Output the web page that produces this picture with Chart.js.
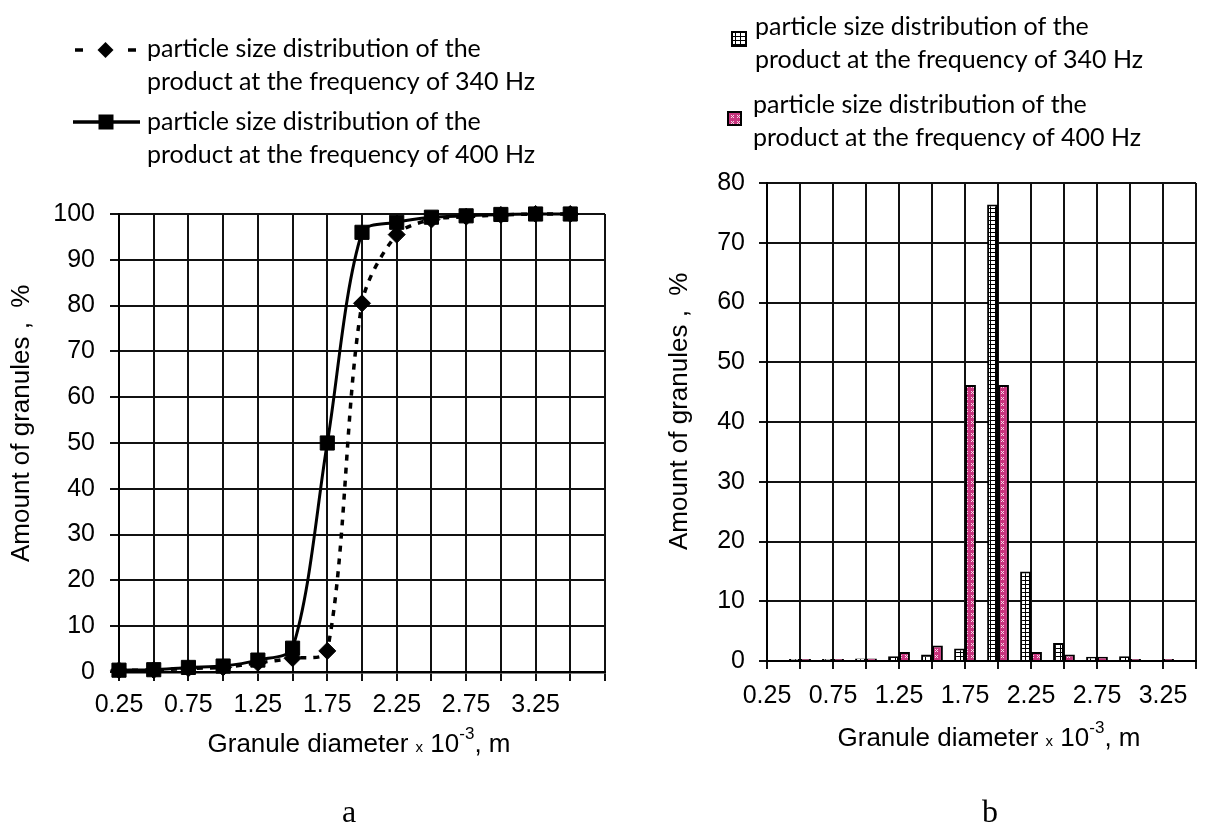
<!DOCTYPE html>
<html>
<head>
<meta charset="utf-8">
<script src="https://cdn.jsdelivr.net/npm/chart.js@4.4.1/dist/chart.umd.min.js"></script>
<style>
  body { margin: 0; background: #fff; }
  #wrap { position: relative; width: 1208px; height: 825px; background: #fff; }
  canvas { position: absolute; top: 0; }
  #left { left: 0; }
  #right { left: 640px; }
</style>
</head>
<body>
<div id="wrap">
  <canvas id="left" width="640" height="825"></canvas>
  <canvas id="right" width="568" height="825"></canvas>
</div>
<script>
// granule diameter, x10^-3 m
const diameters = [0.25, 0.5, 0.75, 1.0, 1.25, 1.5, 1.75, 2.0, 2.25, 2.5, 2.75, 3.0, 3.25, 3.5];
// cumulative amount of granules, % (figure a)
const cum340 = [0.4, 0.4, 0.8, 1.0, 2.0, 3.0, 4.6, 80.5, 95.5, 98.8, 99.4, 99.8, 100, 100];
const cum400 = [0.4, 0.5, 1.0, 1.3, 2.6, 5.2, 50, 96, 98.2, 99.3, 99.6, 99.9, 100, 100];
// amount of granules per fraction, % (figure b); no bar drawn where null
const binDiameters = [0.5, 0.75, 1.0, 1.25, 1.5, 1.75, 2.0, 2.25, 2.5, 2.75, 3.0, 3.25];
const frac340 = [0.2, 0.2, 0.4, 0.8, 1.1, 2.1, 76.4, 15, 3, 0.7, 0.8, null];
const frac400 = [0.2, 0.2, 0.4, 1.5, 2.6, 46.2, 46.2, 1.5, 1.1, 0.7, 0.3, 0.2];
// labelled ticks on the diameter axis
const xTickLabels = ['0.25', '0.75', '1.25', '1.75', '2.25', '2.75', '3.25'];
const legend340 = ['particle size distribution of the', 'product at the frequency of 340 Hz'];
const legend400 = ['particle size distribution of the', 'product at the frequency of 400 Hz'];
const yTitle = 'Amount of granules ,  %';

Chart.defaults.font.family = "'Liberation Sans', Arial, sans-serif";
Chart.defaults.font.size = 25;
Chart.defaults.color = '#000';

const GRID = '#111';
const legendFont = "25px Lato, 'Open Sans', sans-serif";

function makePattern(kind) {
  const c = document.createElement('canvas');
  if (kind === 'grid') {
    c.width = 5; c.height = 4;
    const g = c.getContext('2d');
    g.fillStyle = '#fff'; g.fillRect(0, 0, 5, 4);
    g.fillStyle = '#000'; g.fillRect(0, 0, 5, 1); g.fillRect(0, 0, 1, 4);
    return g.createPattern(c, 'repeat');
  }
  c.width = 6; c.height = 6;
  const g = c.getContext('2d');
  g.fillStyle = '#c8347e'; g.fillRect(0, 0, 6, 6);
  g.fillStyle = '#f6d8e8';
  [[1, 1], [3, 1], [2, 2], [1, 3], [3, 3]].forEach(p => g.fillRect(p[0], p[1], 1, 1));
  return g.createPattern(c, 'repeat');
}
const gridPattern = makePattern('grid');
const pinkPattern = makePattern('pink');

function xTick(v) {
  const s = Number(v).toFixed(2);
  return xTickLabels.includes(s) ? s : '';
}

// --- text helpers for the plugins ---
function drawYTitle(ctx, x, y) {
  ctx.save();
  ctx.translate(x, y);
  ctx.rotate(-Math.PI / 2);
  ctx.font = "26px 'Liberation Sans', Arial, sans-serif";
  ctx.textAlign = 'left';
  ctx.textBaseline = 'middle';
  ctx.fillText(yTitle, 0, 0);
  ctx.restore();
}

function drawXTitle(ctx, cx, base) {
  const parts = [
    ['Granule diameter ', 26, 0],
    ['x', 15, 0],
    [' 10', 26, 0],
    ['-3', 17, -13],
    [', m', 26, 0]
  ];
  ctx.save();
  ctx.textAlign = 'left';
  ctx.textBaseline = 'alphabetic';
  let total = 0;
  parts.forEach(p => {
    ctx.font = p[1] + "px 'Liberation Sans', Arial, sans-serif";
    total += ctx.measureText(p[0]).width;
  });
  let x = cx - total / 2;
  parts.forEach(p => {
    ctx.font = p[1] + "px 'Liberation Sans', Arial, sans-serif";
    ctx.fillText(p[0], x, base + p[2]);
    x += ctx.measureText(p[0]).width;
  });
  ctx.restore();
}

function drawCaption(ctx, text, cx, base) {
  ctx.save();
  ctx.font = "32px 'Liberation Serif', 'Times New Roman', serif";
  ctx.textAlign = 'center';
  ctx.textBaseline = 'alphabetic';
  ctx.fillText(text, cx, base);
  ctx.restore();
}

function drawLegendText(ctx, lines, x, base) {
  ctx.save();
  ctx.font = legendFont;
  ctx.textAlign = 'left';
  ctx.textBaseline = 'alphabetic';
  lines.forEach((t, i) => ctx.fillText(t, x, base + i * 33));
  ctx.restore();
}

const leftDecor = {
  id: 'leftDecor',
  afterDraw(chart) {
    const ctx = chart.ctx;
    ctx.save();
    ctx.fillStyle = '#000';
    ctx.strokeStyle = '#000';
    // 340 Hz symbol: dash - diamond - dash
    ctx.lineWidth = 3.5;
    ctx.beginPath();
    ctx.moveTo(75, 50); ctx.lineTo(83, 50);
    ctx.moveTo(128, 50); ctx.lineTo(136, 50);
    ctx.stroke();
    ctx.beginPath();
    ctx.moveTo(105.5, 42); ctx.lineTo(113.5, 50); ctx.lineTo(105.5, 58); ctx.lineTo(97.5, 50);
    ctx.closePath(); ctx.fill();
    drawLegendText(ctx, legend340, 147, 57);
    // 400 Hz symbol: line with square
    ctx.beginPath();
    ctx.moveTo(73, 122); ctx.lineTo(140, 122);
    ctx.stroke();
    ctx.fillRect(98.5, 114.5, 15, 15);
    drawLegendText(ctx, legend400, 147, 130);
    ctx.restore();

    drawYTitle(ctx, 22, 562);
    drawXTitle(ctx, 359, 752);
    drawCaption(ctx, 'a', 349, 822);
  }
};

const rightDecor = {
  id: 'rightDecor',
  afterDraw(chart) {
    const ctx = chart.ctx;
    ctx.save();
    ctx.strokeStyle = '#000';
    ctx.lineWidth = 2;
    ctx.fillStyle = gridPattern;
    ctx.fillRect(92, 32, 14, 14);
    ctx.strokeRect(92, 32, 14, 14);
    ctx.fillStyle = pinkPattern;
    ctx.fillRect(88, 112, 13, 13);
    ctx.strokeRect(88, 112, 13, 13);
    ctx.fillStyle = '#000';
    drawLegendText(ctx, legend340, 115, 35);
    drawLegendText(ctx, legend400, 113, 113);
    ctx.restore();

    drawYTitle(ctx, 40, 550);
    drawXTitle(ctx, 349, 746);
    drawCaption(ctx, 'b', 350, 822);
  }
};

// figure a: cumulative curves
new Chart(document.getElementById('left'), {
  type: 'line',
  data: {
    datasets: [
      {
        label: legend340.join(' '),
        data: diameters.map((d, i) => ({ x: d, y: cum340[i] })),
        borderColor: '#000',
        borderWidth: 3.5,
        borderDash: [6, 7],
        pointStyle: 'rectRot',
        pointRadius: 8.5,
        pointBackgroundColor: '#000',
        pointBorderColor: '#000',
        pointBorderWidth: 1,
        tension: 0.3,
        clip: false,
        order: 1
      },
      {
        label: legend400.join(' '),
        data: diameters.map((d, i) => ({ x: d, y: cum400[i] })),
        borderColor: '#000',
        borderWidth: 3,
        pointStyle: 'rect',
        pointRadius: 10,
        pointBackgroundColor: '#000',
        pointBorderColor: '#000',
        pointBorderWidth: 1,
        tension: 0.3,
        clip: false,
        order: 0
      }
    ]
  },
  options: {
    responsive: false,
    animation: false,
    layout: { padding: { left: 0, top: 214, right: 35, bottom: 0 } },
    plugins: { legend: { display: false }, tooltip: { enabled: false } },
    scales: {
      x: {
        type: 'linear',
        min: 0.25,
        max: 3.75,
        afterFit: s => { s.height = 153; },
        grid: { color: GRID, lineWidth: 2, tickLength: 9, tickColor: GRID, tickWidth: 2 },
        border: { color: '#000', width: 2.5 },
        ticks: { stepSize: 0.25, autoSkip: false, maxRotation: 0, padding: 9, callback: xTick }
      },
      y: {
        min: 0,
        max: 100,
        afterFit: s => { s.width = 119; },
        grid: { color: GRID, lineWidth: 2, tickLength: 9, tickColor: GRID, tickWidth: 2 },
        border: { color: '#000', width: 2 },
        ticks: { stepSize: 10, padding: 15 }
      }
    }
  },
  plugins: [leftDecor]
});

// figure b: fractions
new Chart(document.getElementById('right'), {
  type: 'bar',
  data: {
    datasets: [
      {
        label: legend340.join(' '),
        data: binDiameters.map((d, i) => ({ x: d, y: frac340[i] })),
        backgroundColor: gridPattern,
        borderColor: '#000',
        borderWidth: 2,
        minBarLength: 2,
        categoryPercentage: 0.66,
        barPercentage: 1
      },
      {
        label: legend400.join(' '),
        data: binDiameters.map((d, i) => ({ x: d, y: frac400[i] })),
        backgroundColor: pinkPattern,
        borderColor: '#000',
        borderWidth: 2,
        minBarLength: 2,
        categoryPercentage: 0.66,
        barPercentage: 1
      }
    ]
  },
  options: {
    responsive: false,
    animation: false,
    layout: { padding: { left: 0, top: 183, right: 1, bottom: 0 } },
    plugins: { legend: { display: false }, tooltip: { enabled: false } },
    scales: {
      x: {
        type: 'linear',
        min: 0.25,
        max: 3.5,
        offset: false,
        afterFit: s => { s.height = 164; },
        grid: { offset: false, color: GRID, lineWidth: 2, tickLength: 8, tickColor: GRID, tickWidth: 2 },
        border: { color: '#000', width: 2 },
        ticks: { stepSize: 0.25, autoSkip: false, maxRotation: 0, padding: 12, callback: xTick }
      },
      y: {
        min: 0,
        max: 80,
        afterFit: s => { s.width = 127; },
        grid: { color: GRID, lineWidth: 2, tickLength: 8, tickColor: GRID, tickWidth: 2 },
        border: { color: '#000', width: 2 },
        ticks: { stepSize: 10, padding: 14 }
      }
    }
  },
  plugins: [rightDecor]
});
</script>
</body>
</html>
